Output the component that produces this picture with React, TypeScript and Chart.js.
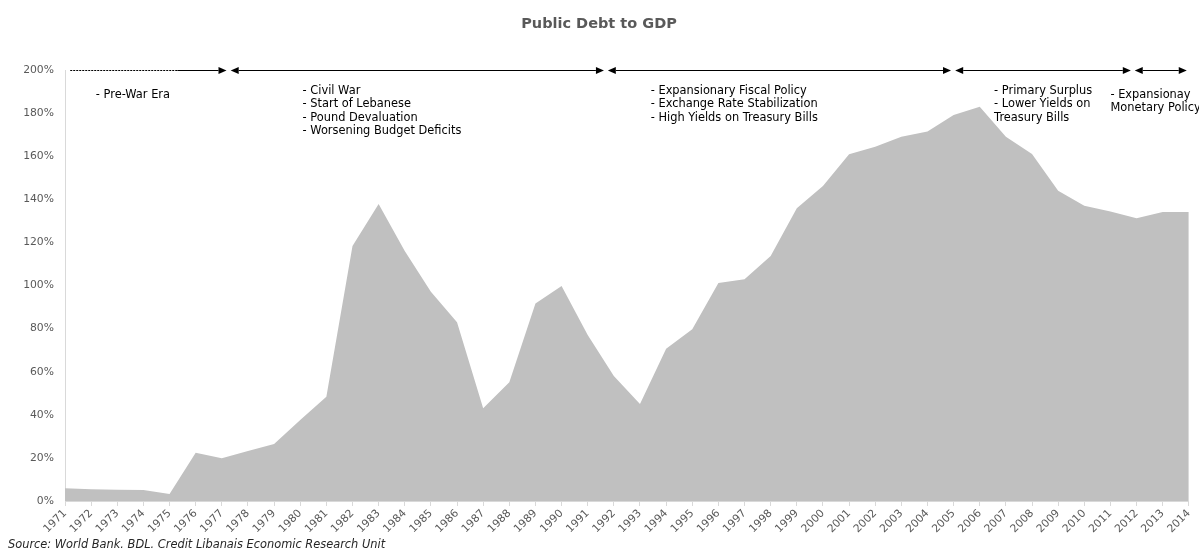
import React, { useEffect, useRef } from "react";
import { Chart, registerables } from "chart.js";

Chart.register(...registerables);

// ---- Data ----
const years: string[] = [
  "1971", "1972", "1973", "1974", "1975", "1976", "1977", "1978", "1979", "1980",
  "1981", "1982", "1983", "1984", "1985", "1986", "1987", "1988", "1989", "1990",
  "1991", "1992", "1993", "1994", "1995", "1996", "1997", "1998", "1999", "2000",
  "2001", "2002", "2003", "2004", "2005", "2006", "2007", "2008", "2009", "2010",
  "2011", "2012", "2013", "2014",
];

const debtToGdp: number[] = [
  5.9, 5.5, 5.2, 5.1, 3.2, 22.4, 19.8, 23.2, 26.5, 37.6,
  48.4, 118.3, 137.8, 116.0, 97.1, 82.9, 43.0, 55.1, 91.7, 99.8,
  77.0, 58.0, 45.0, 70.7, 79.7, 101.2, 102.9, 113.7, 135.8, 146.2,
  160.9, 164.4, 169.0, 171.5, 179.1, 183.0, 169.0, 161.0, 144.0, 137.0,
  134.3, 131.2, 134.1, 134.1,
];

const yTickValues: number[] = [0, 20, 40, 60, 80, 100, 120, 140, 160, 180, 200];

// Period arrows along the 200% line (in fractional year units)
const periodStarts: number[] = [1971.2, 1977.34, 1991.77, 2005.06, 2011.93];
const periodEnds: number[] = [1977.18, 1991.62, 2004.9, 2011.78, 2013.92];

// Period descriptions
const periodTexts: string[][] = [
  ["- Pre-War Era"],
  ["- Civil War", "- Start of Lebanese", "- Pound Devaluation", "- Worsening Budget Deficits"],
  ["- Expansionary Fiscal Policy", "- Exchange Rate Stabilization", "- High Yields on Treasury Bills"],
  ["- Primary Surplus", "- Lower Yields on", "Treasury Bills"],
  ["- Expansionay", "Monetary Policy"],
];
const periodTextYear: number[] = [1972.18, 1980.09, 1993.41, 2006.55, 2011.0];
const periodTextTopPct: number[] = [188.4, 190.2, 190.2, 190.2, 188.4];

const titleText = "Public Debt to GDP";
const sourceText = "Source: World Bank. BDL. Credit Libanais Economic Research Unit";

const FONT = "'DejaVu Sans', Verdana, sans-serif";

const overlayPlugin = {
  id: "overlay",
  afterDraw(chart: any) {
    const ctx: CanvasRenderingContext2D = chart.ctx;
    const xs = chart.scales.x;
    const ys = chart.scales.y;
    const px = (yr: number) => xs.getPixelForValue(yr - 1971);
    const yLine = Math.round(ys.getPixelForValue(200)) + 0.5;

    ctx.save();
    // Title
    ctx.fillStyle = "#595959";
    ctx.font = `bold 14.5px ${FONT}`;
    ctx.textAlign = "center";
    ctx.textBaseline = "middle";
    ctx.fillText(titleText, 599, 24);

    // Source
    ctx.fillStyle = "#262626";
    ctx.font = `italic 11.4px ${FONT}`;
    ctx.textAlign = "left";
    ctx.fillText(sourceText, 8, 545);

    // Arrows
    ctx.strokeStyle = "#000";
    ctx.fillStyle = "#000";
    ctx.lineWidth = 1;
    const headLen = 8;
    const headH = 3.5;
    periodStarts.forEach((s, i) => {
      const x0 = px(s);
      const x1 = px(periodEnds[i]);
      if (i === 0) {
        const xd = px(1975.3);
        ctx.setLineDash([2, 1]);
        ctx.beginPath();
        ctx.moveTo(x0, yLine);
        ctx.lineTo(xd, yLine);
        ctx.stroke();
        ctx.setLineDash([]);
        ctx.beginPath();
        ctx.moveTo(xd, yLine);
        ctx.lineTo(x1 - headLen, yLine);
        ctx.stroke();
      } else {
        ctx.beginPath();
        ctx.moveTo(x0 + headLen, yLine);
        ctx.lineTo(x1 - headLen, yLine);
        ctx.stroke();
        // left head
        ctx.beginPath();
        ctx.moveTo(x0, yLine);
        ctx.lineTo(x0 + headLen, yLine - headH);
        ctx.lineTo(x0 + headLen, yLine + headH);
        ctx.closePath();
        ctx.fill();
      }
      // right head
      ctx.beginPath();
      ctx.moveTo(x1, yLine);
      ctx.lineTo(x1 - headLen, yLine - headH);
      ctx.lineTo(x1 - headLen, yLine + headH);
      ctx.closePath();
      ctx.fill();
    });

    // Period texts
    ctx.fillStyle = "#000";
    ctx.font = `11.4px ${FONT}`;
    ctx.textAlign = "left";
    ctx.textBaseline = "middle";
    periodTexts.forEach((lines, i) => {
      const x = px(periodTextYear[i]);
      const y0 = ys.getPixelForValue(periodTextTopPct[i]);
      lines.forEach((ln, j) => {
        ctx.fillText(ln, x, y0 + j * 13.4);
      });
    });
    ctx.restore();
  },
};

export default function App() {
  const canvasRef = useRef<HTMLCanvasElement | null>(null);

  useEffect(() => {
    const canvas = canvasRef.current;
    if (!canvas) return;
    const chart = new Chart(canvas, {
      type: "line",
      data: {
        labels: years,
        datasets: [
          {
            label: "Public Debt to GDP",
            data: debtToGdp,
            fill: "origin",
            backgroundColor: "#c0c0c0",
            borderColor: "#c0c0c0",
            borderWidth: 0,
            pointRadius: 0,
            tension: 0,
          },
        ],
      },
      options: {
        responsive: false,
        animation: false,
        layout: { padding: { top: 70, right: 8, left: 0, bottom: 0 } },
        plugins: {
          legend: { display: false },
          title: { display: false },
          tooltip: { enabled: false },
        },
        scales: {
          x: {
            type: "category",
            offset: false,
            grid: {
              drawOnChartArea: false,
              drawTicks: true,
              tickLength: 5,
              color: "#d9d9d9",
            },
            border: { display: true, color: "#d9d9d9", width: 1 },
            ticks: {
              autoSkip: false,
              minRotation: 45,
              maxRotation: 45,
              padding: 1,
              color: "#595959",
              font: { family: FONT, size: 10.8 },
            },
            afterFit: (s: any) => {
              s.height = 50;
            },
          },
          y: {
            min: 0,
            max: 200,
            afterBuildTicks: (s: any) => {
              s.ticks = yTickValues.map((v) => ({ value: v }));
            },
            grid: { drawOnChartArea: false, drawTicks: false },
            border: { display: true, color: "#d9d9d9", width: 1 },
            ticks: {
              padding: 11,
              color: "#595959",
              font: { family: FONT, size: 10.8 },
              callback: (v: any) => `${v}%`,
            },
            afterFit: (s: any) => {
              s.width = 65;
            },
          },
        },
      },
      plugins: [overlayPlugin],
    });
    return () => chart.destroy();
  }, []);

  return (
    <div style={{ position: "fixed", left: 0, top: 0, width: 1199, height: 551, background: "#fff" }}>
      <canvas ref={canvasRef} width={1199} height={551} style={{ display: "block" }} />
    </div>
  );
}
